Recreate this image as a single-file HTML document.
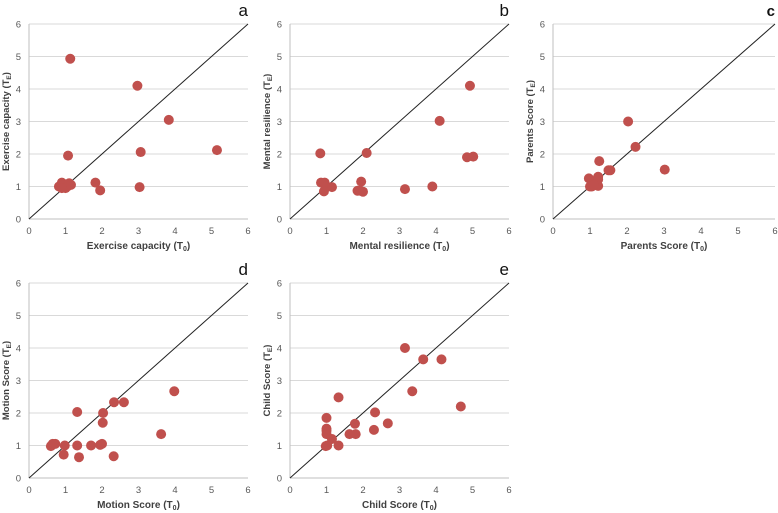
<!DOCTYPE html>
<html><head><meta charset="utf-8"><style>
body{margin:0;background:#fff}
svg{display:block;font-family:"Liberation Sans",sans-serif}
</style></head><body>
<svg id="fig" width="778" height="513"></svg>
<script>
const ticks=[0,1,2,3,4,5,6];
const panelIds=["a","b","c","d","e"];
const xTitles=["Exercise capacity","Mental resilience","Parents Score","Motion Score","Child Score"];
const yTitles=["Exercise capacity ","Mental resilience ","Parents Score  ","Motion Score  ","Child Score  "];
const aX=[1.13,2.97,3.83,1.07,3.06,5.15,1.82,1.95,3.03,0.82,0.9,0.95,1.0,1.05,1.1,1.15,0.9];
const aY=[4.93,4.1,3.05,1.95,2.06,2.12,1.12,0.88,0.98,1.0,1.12,1.05,0.95,1.0,1.1,1.05,0.95];
const bX=[0.83,2.1,4.93,4.1,4.85,5.02,0.85,0.95,1.0,1.15,0.93,1.95,1.85,1.93,2.0,3.15,3.9];
const bY=[2.02,2.03,4.1,3.02,1.9,1.92,1.12,1.12,1.0,0.98,0.85,1.15,0.87,0.87,0.84,0.92,1.0];
const cX=[2.03,2.23,1.25,1.5,1.55,3.02,0.97,1.22,1.22,1.0,1.05,1.22,1.1];
const cY=[3.0,2.22,1.78,1.5,1.5,1.52,1.25,1.3,1.22,1.0,1.0,1.02,1.05];
const dX=[0.6,0.65,0.72,0.98,0.95,1.32,1.32,1.37,1.7,1.95,2.0,2.02,2.03,2.33,2.6,2.32,3.62,3.98];
const dY=[0.98,1.05,1.05,1.0,0.72,2.03,1.0,0.64,1.0,1.02,1.05,1.7,2.0,2.33,2.33,0.67,1.35,2.67];
const eX=[1.0,1.0,1.0,1.0,0.98,1.02,1.15,1.33,1.33,1.63,1.8,1.78,2.3,2.33,2.68,3.15,3.35,3.65,4.15,4.68];
const eY=[1.85,1.52,1.45,1.35,0.98,1.0,1.2,2.48,1.0,1.35,1.35,1.67,1.48,2.02,1.68,4.0,2.67,3.65,3.65,2.2];
const seriesX=[aX,bX,cX,dX,eX], seriesY=[aY,bY,cY,dY,eY];
const boxes=[[29,248,24,219],[290,509,24,219],[553,775,24,219],[29,248,283,478],[290,509,283,478]];
const svg=document.getElementById('fig');const NS="http://www.w3.org/2000/svg";
function mk(t,a,p){const e=document.createElementNS(NS,t);for(const k in a)e.setAttribute(k,a[k]);(p||svg).appendChild(e);return e;}
panelIds.forEach((id,i)=>{
  const [L,R,T,B]=boxes[i];
  const sx=v=>L+(R-L)*v/6, sy=v=>B-(B-T)*v/6;
  const g=mk('g',{});
  
  
  ticks.forEach(t=>{
    if(t>0){const gl=mk('line',{x1:L,x2:R,y1:sy(t),y2:sy(t),stroke:'#d9d9d9','stroke-width':1},g);
    }
    const yl=mk('text',{x:L-8,y:sy(t)+3.5,'text-anchor':'end','font-size':9.5,fill:'#595959'},g);yl.textContent=t;
    
    const xl=mk('text',{x:sx(t),y:B+15,'text-anchor':'middle','font-size':9.5,fill:'#595959'},g);xl.textContent=t;
    
  });
  const ax=mk('line',{x1:L,x2:R,y1:B,y2:B,stroke:'#bfbfbf'},g);
  const ay=mk('line',{x1:L,x2:L,y1:T,y2:B,stroke:'#bfbfbf'},g);
  const ref=mk('line',{x1:sx(0),y1:sy(0),x2:sx(6),y2:sy(6),stroke:'#222','stroke-width':1},g);
  
  seriesX[i].forEach((v,j)=>{
    const c=mk('circle',{cx:sx(v),cy:sy(seriesY[i][j]),r:5,fill:'#c0504d'},g);
    
  });
  const xt=mk('text',{x:(L+R)/2,y:B+30,'text-anchor':'middle','font-size':10,'font-weight':'bold',fill:'#404040'},g);
  xt.innerHTML=xTitles[i]+' (T<tspan font-size="7" dy="2">0</tspan><tspan dy="-2">)</tspan>';
  
  const yc=(T+B)/2, yx=L-20;
  const yt=mk('text',{x:yx,y:yc,'text-anchor':'middle','font-size':9.5,'font-weight':'bold',fill:'#404040',transform:`rotate(-90 ${yx} ${yc})`},g);
  yt.setAttribute('xml:space','preserve');
  yt.innerHTML=yTitles[i]+'(T<tspan font-size="6.5" dy="2">E</tspan><tspan dy="-2">)</tspan>';
  
  const pl=mk('text',{x:R,y:T-8,'text-anchor':'end','font-size':id==='c'?15:17,'font-weight':id==='c'?'bold':'normal',fill:'#111'},g);
  pl.textContent=id;
});
</script>
</body></html>
